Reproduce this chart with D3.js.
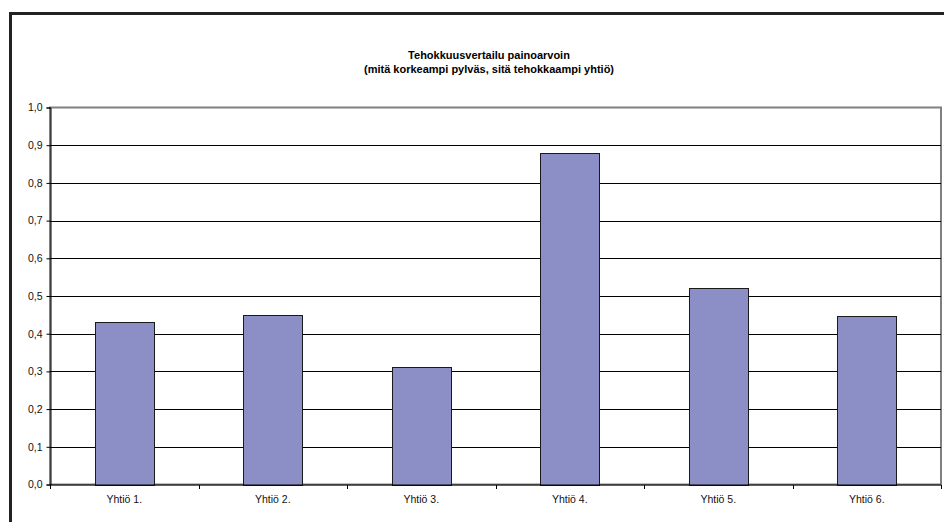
<!DOCTYPE html>
<html>
<head>
<meta charset="utf-8">
<script src="https://cdn.jsdelivr.net/npm/d3@7"></script>
<style>
  html, body { margin: 0; padding: 0; background: #fff; overflow: hidden; }
  svg { display: block; }
</style>
</head>
<body>
<svg id="chart" width="944" height="522"></svg>
<script>
// Companies compared and their weighted efficiency scores
const companies = ["Yhtiö 1.", "Yhtiö 2.", "Yhtiö 3.", "Yhtiö 4.", "Yhtiö 5.", "Yhtiö 6."];
const scores = [0.431, 0.449, 0.311, 0.878, 0.522, 0.446];
const yTicks = [0, 0.1, 0.2, 0.3, 0.4, 0.5, 0.6, 0.7, 0.8, 0.9, 1.0];
const titleLines = ["Tehokkuusvertailu painoarvoin", "(mitä korkeampi pylväs, sitä tehokkaampi yhtiö)"];

const svg = d3.select("#chart");
const font = "'Liberation Sans', Arial, sans-serif";

// Outer chart frame (runs past the right and bottom edges)
svg.append("rect")
  .attr("x", 10.5).attr("y", 13.5)
  .attr("width", 1000).attr("height", 600)
  .attr("fill", "#fff")
  .attr("stroke", "#222").attr("stroke-width", 3);

// Title
svg.append("g").selectAll("text")
  .data(titleLines)
  .join("text")
  .attr("x", 489)
  .attr("y", (d, i) => 59 + i * 14)
  .attr("text-anchor", "middle")
  .attr("font-family", font)
  .attr("font-weight", "bold")
  .attr("font-size", 11)
  .attr("fill", "#000")
  .text(d => d);

const plot = { left: 50, right: 941, top: 107.5, bottom: 484.5 };

const x = d3.scaleBand()
  .domain(companies)
  .range([plot.left, plot.right])
  .paddingInner(0.6)
  .paddingOuter(0.3);

const xBand = d3.scaleBand().domain(companies).range([plot.left, plot.right]);

const y = d3.scaleLinear()
  .domain([0, 1])
  .range([plot.bottom, plot.top]);

// Plot-area border (grey top and right edges)
svg.append("rect")
  .attr("x", plot.left).attr("y", plot.top)
  .attr("width", plot.right - plot.left).attr("height", plot.bottom - plot.top)
  .attr("fill", "none")
  .attr("stroke", "#808080").attr("stroke-width", 2);

// Horizontal gridlines
svg.append("g").selectAll("line")
  .data(yTicks.filter(t => t > 0 && t < 1))
  .join("line")
  .attr("x1", plot.left).attr("x2", plot.right)
  .attr("y1", d => Math.round(y(d)) + 0.5).attr("y2", d => Math.round(y(d)) + 0.5)
  .attr("stroke", "#000").attr("stroke-width", 1);

// Bars
svg.append("g").selectAll("rect")
  .data(companies)
  .join("rect")
  .attr("x", d => Math.round(x(d)) + 0.5)
  .attr("y", (d, i) => Math.round(y(scores[i])) + 0.5)
  .attr("width", Math.round(x.bandwidth()))
  .attr("height", (d, i) => Math.round(y(0)) - Math.round(y(scores[i])))
  .attr("fill", "#8b8fc6")
  .attr("stroke", "#1a1a1a").attr("stroke-width", 1);

// Y axis
const yAxis = svg.append("g")
  .attr("transform", `translate(${plot.left + 0.5},0)`)
  .call(d3.axisLeft(y)
    .tickValues(yTicks)
    .tickSize(4)
    .tickPadding(4)
    .tickFormat(d => d3.format(".1f")(d).replace(".", ",")));
yAxis.select(".domain").attr("stroke", "#000");
yAxis.selectAll(".tick line").attr("stroke", "#000");
yAxis.selectAll("text")
  .attr("font-family", font).attr("font-size", 10.5).attr("fill", "#111");

// X axis with ticks at category boundaries
const xAxisG = svg.append("g")
  .attr("transform", `translate(0,${plot.bottom + 0.5})`);
xAxisG.append("line")
  .attr("x1", plot.left).attr("x2", plot.right)
  .attr("stroke", "#000");
const boundaries = companies.map(c => xBand(c)).concat([plot.right]);
xAxisG.selectAll("line.tick")
  .data(boundaries)
  .join("line")
  .attr("class", "tick")
  .attr("x1", d => Math.round(d) + 0.5).attr("x2", d => Math.round(d) + 0.5)
  .attr("y1", 0).attr("y2", 4)
  .attr("stroke", "#000");
xAxisG.selectAll("text")
  .data(companies)
  .join("text")
  .attr("x", d => xBand(d) + xBand.bandwidth() / 2)
  .attr("y", 18)
  .attr("text-anchor", "middle")
  .attr("font-family", font).attr("font-size", 10.5).attr("fill", "#111")
  .text(d => d);
</script>
</body>
</html>
